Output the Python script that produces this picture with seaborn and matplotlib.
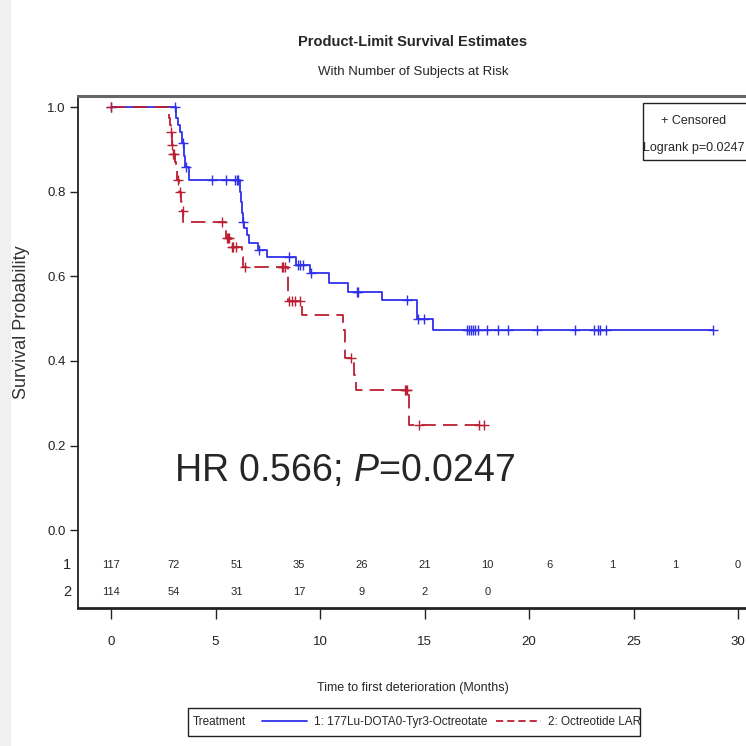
import numpy as np
import pandas as pd
import seaborn as sns
import matplotlib.pyplot as plt
from matplotlib.lines import Line2D
from matplotlib.patches import Rectangle

# %% data
# arm 1: step times (months) and survival after each step
lu_time = [0, 3.10, 3.20, 3.30, 3.40, 3.50, 3.55, 3.75, 6.15, 6.20, 6.25, 6.30,
           6.35, 6.50, 6.60, 7.03, 7.46, 8.85, 9.52, 10.43, 11.34, 12.97, 14.64,
           15.41, 28.8]
lu_surv = [1.0, 0.974, 0.957, 0.940, 0.915, 0.885, 0.858, 0.827, 0.800, 0.775,
           0.750, 0.728, 0.714, 0.697, 0.678, 0.662, 0.645, 0.627, 0.608, 0.584,
           0.563, 0.544, 0.499, 0.473, 0.473]
lu_cens = [0, 3.06, 3.42, 3.6, 4.83, 5.5, 5.93, 6.03, 6.08, 6.32, 7.08, 8.52,
           8.95, 9.04, 9.19, 9.57, 11.77, 11.82, 14.16, 14.69, 14.98, 17.03,
           17.13, 17.22, 17.32, 17.42, 17.56, 18.0, 18.5, 19.0, 20.4, 22.2, 23.1,
           23.3, 23.4, 23.7, 28.8]

# arm 2
oct_time = [0, 2.75, 2.80, 2.85, 2.90, 2.95, 3.05, 3.10, 3.15, 3.25, 3.35, 3.40,
            3.45, 5.50, 5.74, 6.27, 6.32, 8.47, 9.14, 11.10, 11.20, 11.63, 11.72,
            14.26, 17.9]
oct_surv = [1.0, 0.974, 0.957, 0.940, 0.910, 0.890, 0.870, 0.850, 0.827, 0.800,
            0.775, 0.755, 0.728, 0.690, 0.669, 0.645, 0.622, 0.542, 0.508, 0.473,
            0.407, 0.366, 0.331, 0.248, 0.248]
oct_cens = [0, 2.87, 2.92, 2.97, 3.0, 3.2, 3.3, 3.42, 5.31, 5.55, 5.6, 5.65,
            5.79, 5.84, 5.98, 6.41, 8.18, 8.23, 8.33, 8.5, 8.66, 8.8, 9.04,
            11.48, 14.05, 14.1, 14.15, 14.74, 17.6, 17.85]

risk_times = [0, 3, 6, 9, 12, 15, 18, 21, 24, 27, 30]
risk_lu = [117, 72, 51, 35, 26, 21, 10, 6, 1, 1, 0]
risk_oct = [114, 54, 31, 17, 9, 2, 0]

arm_names = ["1: 177Lu-DOTA0-Tyr3-Octreotate", "2: Octreotide LAR"]
blue = "#3030ea"
red = "#bb1f33"


# %% build frames
def censor_y(times, surv, cens):
    idx = np.searchsorted(times, cens, side="right") - 1
    return np.asarray(surv)[idx]


steps = pd.concat([
    pd.DataFrame({"time": lu_time, "surv": lu_surv, "arm": arm_names[0]}),
    pd.DataFrame({"time": oct_time, "surv": oct_surv, "arm": arm_names[1]}),
])
cens = pd.concat([
    pd.DataFrame({"time": lu_cens, "surv": censor_y(lu_time, lu_surv, lu_cens),
                  "arm": arm_names[0]}),
    pd.DataFrame({"time": oct_cens, "surv": censor_y(oct_time, oct_surv, oct_cens),
                  "arm": arm_names[1]}),
])

# %% plot
sns.set_style("white")
plt.rcParams["font.family"] = ["Liberation Sans", "DejaVu Sans"]
plt.rcParams["mathtext.fontset"] = "custom"
plt.rcParams["mathtext.rm"] = "Liberation Sans"
plt.rcParams["mathtext.it"] = "Liberation Sans:italic"

fig = plt.figure(figsize=(7.46, 7.46), dpi=100)
fig.patches.append(Rectangle((0, 0), 10 / 746, 1, transform=fig.transFigure,
                             color="#f0f0f0", zorder=-10))
ax = fig.add_axes([78 / 746, 138 / 746, 668 / 746, 512 / 746])

pal = {arm_names[0]: blue, arm_names[1]: red}
sns.lineplot(data=steps, x="time", y="surv", hue="arm", style="arm",
             palette=pal, dashes={arm_names[0]: "", arm_names[1]: (8, 4)},
             drawstyle="steps-post", estimator=None, sort=False, lw=1.3,
             legend=False, ax=ax)
for arm in arm_names:
    sub = cens[cens["arm"] == arm]
    sns.scatterplot(x=sub["time"], y=sub["surv"], marker="+", s=55,
                    color=pal[arm], linewidth=1.0, ax=ax, zorder=3)

ax.set_xlim(-1.58, 30.38)
ax.set_ylim(-0.184, 1.026)
ax.set_yticks([0, 0.2, 0.4, 0.6, 0.8, 1.0])
ax.set_yticklabels(["0.0", "0.2", "0.4", "0.6", "0.8", "1.0"])
ax.set_xticks([0, 5, 10, 15, 20, 25, 30])
ax.tick_params(axis="both", direction="out", length=6, width=1, labelsize=9.5,
               colors="#222222", left=True, bottom=True)
ax.tick_params(axis="x", length=8, pad=12)
ax.tick_params(axis="y", pad=3)
ax.set_xlabel("Time to first deterioration (Months)", fontsize=9)
ax.xaxis.set_label_coords(335 / 668, -74 / 512)
ax.set_ylabel("Survival Probability", fontsize=13, color="#333333")
ax.yaxis.set_label_coords(-48 / 668, 0.559)
ax.spines["right"].set_visible(False)
ax.spines["top"].set_color("#666666")
ax.spines["top"].set_linewidth(2.2)
ax.spines["left"].set_color("#222222")
ax.spines["left"].set_linewidth(1.3)
ax.spines["bottom"].set_color("#222222")
ax.spines["bottom"].set_linewidth(2)

# number at risk rows
for t, n in zip(risk_times, risk_lu):
    ax.text(t, -0.083, str(n), ha="center", va="center", fontsize=8)
for t, n in zip(risk_times, risk_oct):
    ax.text(t, -0.147, str(n), ha="center", va="center", fontsize=8)
ax.text(-2.1, -0.083, "1", ha="center", va="center", fontsize=10.5)
ax.text(-2.1, -0.147, "2", ha="center", va="center", fontsize=10.5)

ax.text(3.0, 0.14, "HR 0.566; $\\it{P}$=0.0247", fontsize=27, va="center")

# censored / logrank box
fig.patches.append(Rectangle((643 / 746, 1 - 160 / 746), 110 / 746, 57 / 746,
                             transform=fig.transFigure, fill=False,
                             ec="#222222", lw=1))
fig.text(694 / 746, 1 - 121 / 746, "+ Censored", ha="center", va="center",
         fontsize=9)
fig.text(694 / 746, 1 - 148 / 746, "Logrank p=0.0247", ha="center", va="center",
         fontsize=9)

fig.text(413 / 746, 1 - 42 / 746, "Product-Limit Survival Estimates",
         ha="center", va="center", fontsize=10.5, weight="bold")
fig.text(413 / 746, 1 - 72 / 746, "With Number of Subjects at Risk",
         ha="center", va="center", fontsize=9.5)

# legend strip at bottom
fig.patches.append(Rectangle((188 / 746, 1 - 736 / 746), 452 / 746, 28 / 746,
                             transform=fig.transFigure, fill=False,
                             ec="#222222", lw=1))
fig.text(193 / 746, 1 - 722 / 746, "Treatment", ha="left", va="center",
         fontsize=8.5)
handles = [Line2D([], [], color=blue, lw=1.3),
           Line2D([], [], color=red, lw=1.3, dashes=(4, 2.2))]
fig.legend(handles, arm_names, loc="center left",
           bbox_to_anchor=(262 / 746, 1 - 722 / 746), ncol=2, frameon=False,
           fontsize=8.5, handlelength=3.8, handletextpad=0.6, columnspacing=0.75,
           borderpad=0, borderaxespad=0)

fig.savefig("out.png", dpi=100)
